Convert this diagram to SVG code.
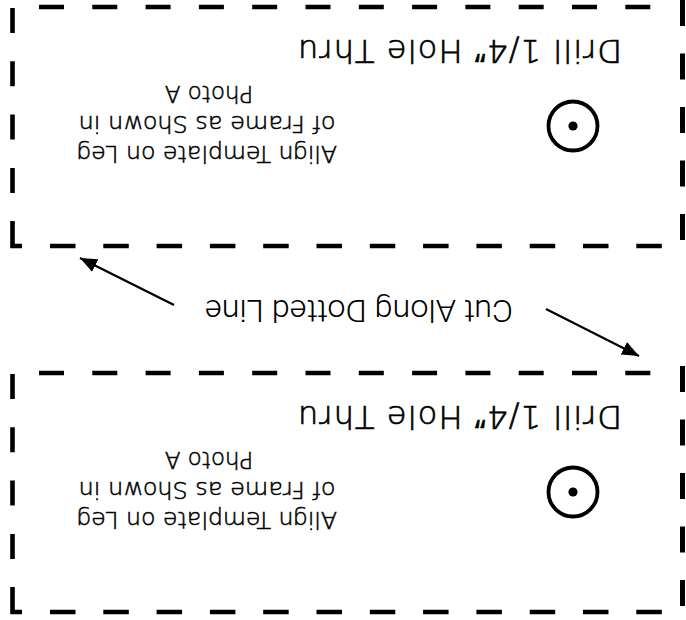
<svg xmlns="http://www.w3.org/2000/svg" xmlns:xlink="http://www.w3.org/1999/xlink" width="686" height="620" viewBox="0 0 686 620">
  <style>
    .dash { fill: none; stroke: #000; stroke-width: 4.6; stroke-linecap: butt; }
    .solid { fill: none; stroke: #000; stroke-width: 4.6; stroke-linejoin: miter; }
    .hole { fill: none; stroke: #000; stroke-width: 3.8; }
    .dot { fill: #000; }
    .big { font-family: "DejaVu Sans", "Liberation Sans", sans-serif; font-weight: 200; font-size: 32px; fill: #000; stroke: #000; stroke-width: 0.7; }
    .small { font-family: "DejaVu Sans", "Liberation Sans", sans-serif; font-weight: 200; font-size: 23px; fill: #000; stroke: #000; stroke-width: 0.5; text-anchor: middle; }
    .cut { font-family: Roboto, "Liberation Sans", Arial, sans-serif; font-weight: 300; font-size: 31.5px; fill: #000; text-anchor: middle; }
    .arrow { fill: none; stroke: #000; stroke-width: 2.2; }
  </style>
  <defs>
    <marker id="head" markerUnits="userSpaceOnUse" markerWidth="18" markerHeight="14" refX="17" refY="7" orient="auto">
      <path d="M0 0 L17 7 L0 14 Z" fill="#000"/>
    </marker>
    <g id="frame">
      <line class="dash" x1="39" y1="7" x2="651" y2="7" stroke-dasharray="25 28.3"/>
      <line class="dash" x1="50" y1="246" x2="663" y2="246" stroke-dasharray="25.5 27.8"/>
      <line class="dash" x1="12.5" y1="8" x2="12.5" y2="194" stroke-dasharray="25 28.3"/>
      <path class="solid" d="M12.5 221 V246 H22"/>
      <line class="dash" x1="682.5" y1="0" x2="682.5" y2="240" stroke-dasharray="26 27.5" style="stroke-width:5"/>
    </g>
  </defs>

  <g id="template-top">
    <use xlink:href="#frame" href="#frame"/>
    <circle class="hole" cx="573" cy="126" r="24.5"/>
    <circle class="dot" cx="573" cy="126" r="4.6"/>
    <g transform="rotate(180 343 310)">
      <text class="big" x="64" y="580" textLength="324" lengthAdjust="spacing">Drill 1/4″ Hole Thru</text>
      <text class="small" x="479" y="474" textLength="260" lengthAdjust="spacingAndGlyphs">Align Template on Leg</text>
      <text class="small" x="479" y="504" textLength="257" lengthAdjust="spacingAndGlyphs">of Frame as Shown in</text>
      <text class="small" x="477" y="534">Photo A</text>
    </g>
  </g>

  <g id="template-bottom" transform="translate(0 366)">
    <use xlink:href="#frame" href="#frame"/>
    <circle class="hole" cx="573" cy="126" r="24.5"/>
    <circle class="dot" cx="573" cy="126" r="4.6"/>
    <g transform="rotate(180 343 310)">
      <text class="big" x="64" y="580" textLength="324" lengthAdjust="spacing">Drill 1/4″ Hole Thru</text>
      <text class="small" x="479" y="474" textLength="260" lengthAdjust="spacingAndGlyphs">Align Template on Leg</text>
      <text class="small" x="479" y="504" textLength="257" lengthAdjust="spacingAndGlyphs">of Frame as Shown in</text>
      <text class="small" x="477" y="534">Photo A</text>
    </g>
  </g>

  <g id="cut-label" transform="rotate(180 343 310)">
    <text class="cut" x="327" y="320" textLength="308" lengthAdjust="spacingAndGlyphs">Cut Along Dotted Line</text>
  </g>

  <g id="connectors">
    <line class="arrow" x1="174" y1="305" x2="80" y2="258" marker-end="url(#head)"/>
    <line class="arrow" x1="546" y1="309" x2="639" y2="356" marker-end="url(#head)"/>
  </g>
</svg>
